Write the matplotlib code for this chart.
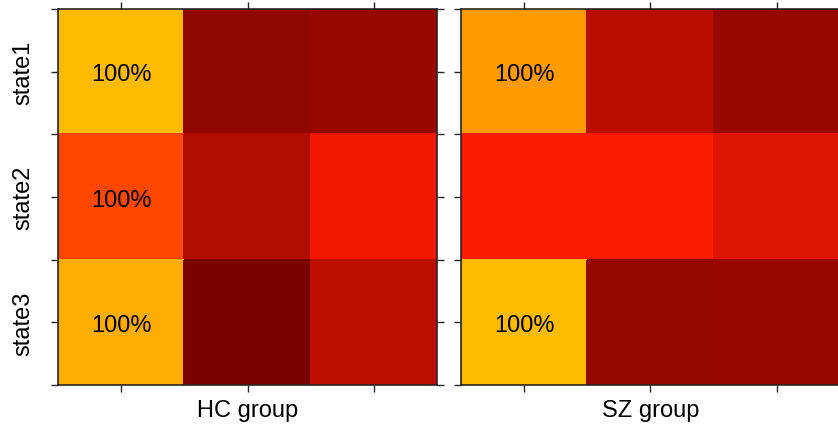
import matplotlib.pyplot as plt
import numpy as np
from matplotlib.colors import LinearSegmentedColormap

plt.rcParams["font.family"] = ["Liberation Sans", "DejaVu Sans"]

states = ["state1", "state2", "state3"]
groups = ["HC group", "SZ group"]

# colour intensity per cell (rows = states, cols = 3 columns)
hc_vals = [[1.00, 0.09, 0.12],
           [0.64, 0.21, 0.44],
           [0.96, 0.01, 0.26]]
sz_vals = [[0.90, 0.24, 0.12],
           [0.50, 0.50, 0.37],
           [1.00, 0.11, 0.12]]

hc_text = [["100%", "", ""],
           ["100%", "", ""],
           ["100%", "", ""]]
sz_text = [["100%", "", ""],
           ["", "", ""],
           ["100%", "", ""]]

cmap = LinearSegmentedColormap.from_list(
    "redyel", [(0.0, "#780200"), (0.5, "#FF1A00"), (1.0, "#FFBB00")])


def panel(ax, vals, txt, xlabel, show_y):
    z = np.array(vals)
    ax.pcolormesh(np.arange(4), np.arange(4), z, cmap=cmap, vmin=0, vmax=1,
                  shading="flat", edgecolor="face", linewidth=0.3)
    ax.set_xlim(0, 3)
    ax.set_ylim(3, 0)
    for i in range(3):
        for j in range(3):
            if txt[i][j]:
                ax.text(j + 0.5, i + 0.5, txt[i][j], ha="center",
                        va="center_baseline", fontsize=17, color="black")
    ax.set_xticks([0.5, 1.5, 2.5])
    ax.set_xticklabels([])
    ax.set_yticks([0.5, 1.5, 2.5])
    ax.set_yticks([0, 1, 2, 3], minor=True)
    if show_y:
        ax.set_yticklabels(states, rotation=90, va="center", fontsize=17)
    else:
        ax.set_yticklabels([])
    ax.tick_params(which="both", direction="out", length=5, width=1,
                   color="#262626", top=True, right=True)
    ax.tick_params(axis="y", pad=12)
    ax.tick_params(axis="x", pad=1)
    for s in ax.spines.values():
        s.set_color("#262626")
        s.set_linewidth(1.2)
    ax.set_xlabel(xlabel, fontsize=17, labelpad=4)


fig = plt.figure(figsize=(8.38, 4.31), dpi=100)
ax1 = fig.add_axes([0.0692, 0.1044, 0.4523, 0.8724])
ax2 = fig.add_axes([0.5501, 0.1044, 0.4523, 0.8724])
panel(ax1, hc_vals, hc_text, groups[0], True)
panel(ax2, sz_vals, sz_text, groups[1], False)

fig.savefig("out.png", dpi=100)
